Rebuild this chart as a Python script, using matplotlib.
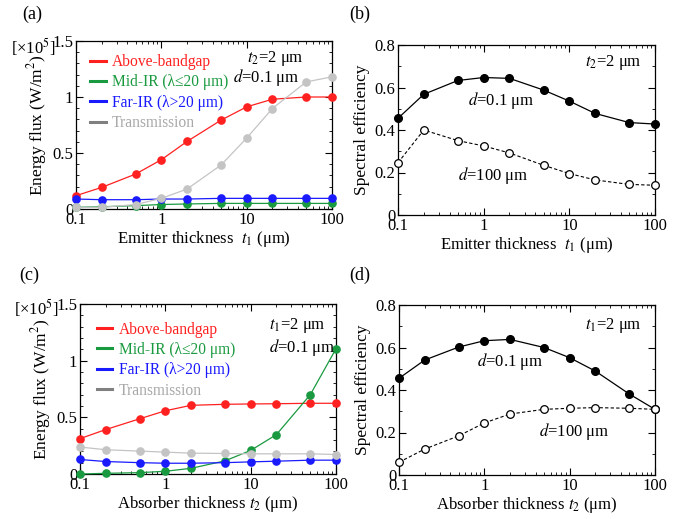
import matplotlib
matplotlib.use("Agg")
import matplotlib.pyplot as plt
from matplotlib.lines import Line2D
from matplotlib.ticker import MultipleLocator, LogLocator, NullFormatter, FixedLocator, FixedFormatter

plt.rcParams['font.family'] = ['Liberation Serif', 'DejaVu Serif']
plt.rcParams['mathtext.fontset'] = 'stix'
plt.rcParams['font.size'] = 11

thick = [0.1, 0.2, 0.5, 1, 2, 5, 10, 20, 50, 100]

# (a) emitter thickness sweep, energy flux [x1e5 W/m2]
a_above = [0.119, 0.193, 0.312, 0.44, 0.603, 0.793, 0.912, 0.98, 1.0, 1.0]
a_mid = [0.015, 0.02, 0.03, 0.04, 0.045, 0.05, 0.05, 0.05, 0.05, 0.05]
a_far = [0.089, 0.083, 0.083, 0.089, 0.089, 0.095, 0.095, 0.095, 0.095, 0.095]
a_trans = [0.015, 0.015, 0.04, 0.095, 0.178, 0.392, 0.633, 0.897, 1.135, 1.18]

# (b) spectral efficiency vs emitter thickness
b_d01 = [0.455, 0.568, 0.633, 0.647, 0.643, 0.588, 0.536, 0.478, 0.435, 0.428]
b_d100 = [0.246, 0.40, 0.35, 0.325, 0.292, 0.234, 0.195, 0.165, 0.144, 0.14]

# (c) absorber thickness sweep
c_above = [0.312, 0.392, 0.487, 0.558, 0.606, 0.615, 0.618, 0.62, 0.624, 0.624]
c_mid = [0.0, 0.006, 0.012, 0.024, 0.05, 0.116, 0.208, 0.347, 0.70, 1.105]
c_far = [0.128, 0.11, 0.10, 0.095, 0.095, 0.10, 0.107, 0.113, 0.122, 0.122]
c_trans = [0.238, 0.214, 0.202, 0.193, 0.184, 0.181, 0.178, 0.178, 0.178, 0.172]

# (d) spectral efficiency vs absorber thickness
d_d01 = [0.455, 0.541, 0.602, 0.632, 0.638, 0.60, 0.552, 0.489, 0.381, 0.309]
d_d100 = [0.06, 0.122, 0.184, 0.245, 0.287, 0.309, 0.314, 0.317, 0.314, 0.309]

series_labels = ['Above-bandgap', 'Mid-IR (λ≤20 μm)', 'Far-IR (λ>20 μm)', 'Transmission']
line_colors = ['#ff2020', '#1a9a40', '#1a1aff', '#c4c4c4']
legend_line_colors = ['#ff2020', '#1a9a40', '#1a1aff', '#808080']
text_colors = ['#ff2020', '#1a9a40', '#1a1aff', '#a8a8a8']

W, H = 681, 519
fig = plt.figure(figsize=(W / 100, H / 100), dpi=100)

def px_axes(l, t, r, b):
    return fig.add_axes([l / W, 1 - b / H, (r - l) / W, (b - t) / H])

axA = px_axes(76, 41, 332, 209)
axB = px_axes(398, 45, 655, 215)
axC = px_axes(80, 304, 336, 474)
axD = px_axes(399, 305, 655, 475)

def style(ax, ymax, ymajor, yminor, ylabels):
    ax.set_xscale('log')
    ax.set_xlim(0.1, 100)
    ax.set_ylim(0, ymax)
    ax.xaxis.set_major_locator(FixedLocator([0.1, 1, 10, 100]))
    ax.xaxis.set_major_formatter(FixedFormatter(['0.1', '1', '10', '100']))
    ax.xaxis.set_minor_locator(LogLocator(base=10, subs=range(2, 10), numticks=20))
    ax.xaxis.set_minor_formatter(NullFormatter())
    ax.yaxis.set_major_locator(FixedLocator(ymajor))
    ax.yaxis.set_major_formatter(FixedFormatter(ylabels))
    ax.yaxis.set_minor_locator(MultipleLocator(yminor))
    ax.tick_params(which='both', direction='in', top=True, right=True, labelsize=12)
    ax.tick_params(which='major', length=5, width=0.8, pad=2)
    ax.tick_params(which='minor', length=2.5, width=0.6)
    for s in ax.spines.values():
        s.set_linewidth(0.9)

def flux_panel(ax, ys, xlabel, ann, leg_anchor):
    for y, c in zip(ys, line_colors):
        ax.plot(thick, y, '-', color=c, lw=0.9, marker='o', ms=5.2, clip_on=False, zorder=3)
    style(ax, 1.5, [0, 0.5, 1, 1.5], 0.1, ['0', '0.5', '1', '1.5'])
    ax.set_xlabel(xlabel, fontsize=12, labelpad=1)
    ax.set_ylabel('Energy flux (W/m$^2$)', fontsize=12.5, labelpad=2)
    handles = [Line2D([], [], color=c, lw=2.2) for c in legend_line_colors]
    leg = ax.legend(handles, series_labels, loc='upper left', bbox_to_anchor=leg_anchor,
                    frameon=False, handlelength=1.0, handletextpad=0.4, labelspacing=0.28,
                    fontsize=11.2, borderaxespad=0, borderpad=0)
    for t, c in zip(leg.get_texts(), text_colors):
        t.set_color(c)
    for (x, y, s) in ann:
        ax.text(x, y, s, transform=ax.transAxes, fontsize=12, ha='left', va='center')

def eff_panel(ax, y1, y2, xlabel, ann):
    ax.plot(thick, y1, '-', color='black', lw=0.9, marker='o', ms=5.5, clip_on=False, zorder=3)
    ax.plot(thick, y2, '--', color='black', lw=0.8, dashes=(3, 2), marker='o', ms=5.5,
            markerfacecolor='white', markeredgewidth=0.9, clip_on=False, zorder=3)
    style(ax, 0.8, [0, 0.2, 0.4, 0.6, 0.8], 0.1, ['0', '0.2', '0.4', '0.6', '0.8'])
    ax.set_xlabel(xlabel, fontsize=12, labelpad=1)
    ax.set_ylabel('Spectral efficiency', fontsize=12.5, labelpad=3)
    for (x, y, s, ha) in ann:
        ax.text(x, y, s, transform=ax.transAxes, fontsize=12, ha=ha, va='center')

flux_panel(axA, [a_above, a_mid, a_far, a_trans], r'Emitter thickness  $t_1$ (μm)',
           [(0.668, 0.893, r'$t_2$=2 μm'), (0.613, 0.78, r'$d$=0.1 μm')], (0.055, 0.922))
flux_panel(axC, [c_above, c_mid, c_far, c_trans], r'Absorber thickness $t_2$ (μm)',
           [(0.738, 0.876, r'$t_1$=2 μm'), (0.738, 0.747, r'$d$=0.1 μm')], (0.066, 0.897))
eff_panel(axB, b_d01, b_d100, r'Emitter thickness  $t_1$ (μm)',
          [(0.949, 0.9, r'$t_2$=2 μm', 'right'), (0.40, 0.676, r'$d$=0.1 μm', 'center'),
           (0.372, 0.235, r'$d$=100 μm', 'center')])
eff_panel(axD, d_d01, d_d100, r'Absorber thickness $t_2$ (μm)',
          [(0.949, 0.88, r'$t_1$=2 μm', 'right'), (0.436, 0.665, r'$d$=0.1 μm', 'center'),
           (0.685, 0.253, r'$d$=100 μm', 'center')])

# exponent tags and panel labels
fig.text(33 / W, 1 - 47 / H, '[×10$^5$]', fontsize=12, ha='center', va='center')
fig.text(36 / W, 1 - 308 / H, '[×10$^5$]', fontsize=12, ha='center', va='center')
for (x, y, s) in [(32, 14, '(a)'), (360, 14, '(b)'), (29, 275, '(c)'), (360, 275, '(d)')]:
    fig.text(x / W, 1 - y / H, s, fontsize=13, ha='center', va='center')

fig.savefig('out.png', dpi=100)
